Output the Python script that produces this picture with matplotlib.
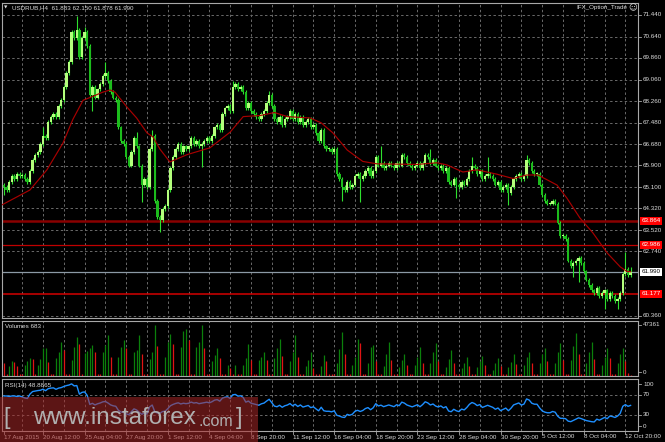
import numpy as np
import matplotlib
matplotlib.use("Agg")
import matplotlib.pyplot as plt
from matplotlib.patches import Rectangle
from matplotlib.lines import Line2D

plt.rcParams['font.family'] = ['Liberation Sans', 'DejaVu Sans']

W, H = 665, 442

# ---------------- data ----------------
title_text = "USDRUB,H4  61.883 62.150 61.878 61.990"
first_open = 65.20
closes = [
    65.10, 65.00, 65.30, 65.50, 65.40, 65.60, 65.50, 65.55, 65.40, 65.30,
    65.70, 66.10, 66.30, 66.40, 66.70, 67.00, 66.90, 67.50, 67.70, 67.80,
    67.70, 68.10, 68.30, 68.80, 69.30, 69.70, 70.80, 70.60, 70.90, 69.90,
    70.60, 70.80, 70.30, 68.50, 68.80, 68.40, 68.70, 68.90, 69.20, 69.30,
    69.00, 68.60, 68.40, 68.30, 67.30, 66.80, 66.70, 66.20, 65.90, 66.40,
    66.90, 66.60, 65.90, 65.20, 65.40, 65.10, 66.50, 67.00, 64.60, 64.00,
    63.90, 64.30, 64.40, 65.00, 65.80, 66.20, 66.50, 66.70, 66.40, 66.60,
    66.50, 66.60, 66.90, 66.70, 66.80, 66.60, 66.70, 66.80, 66.90, 66.80,
    67.00, 67.30, 67.40, 67.20, 67.80, 68.00, 68.10, 67.90, 68.80, 68.90,
    68.70, 68.80, 68.60, 68.00, 68.20, 67.90, 67.80, 67.70, 67.60, 67.80,
    67.90, 68.20, 68.50, 68.10, 67.60, 67.50, 67.70, 67.40, 67.60, 67.70,
    67.90, 67.60, 67.80, 67.50, 67.70, 67.40, 67.50, 67.60, 67.30, 67.40,
    67.10, 66.80, 67.20, 66.60, 66.50, 66.50, 66.40, 66.50, 65.60, 65.40,
    65.10, 65.00, 65.30, 65.10, 65.20, 65.50, 65.60, 65.40, 65.50, 65.70,
    65.80, 65.50, 65.70, 66.20, 65.90, 66.00, 65.80, 65.90, 66.00, 65.90,
    65.80, 66.00, 65.90, 66.30, 66.20, 66.00, 65.90, 65.80, 65.90, 66.00,
    65.80, 66.00, 66.30, 66.20, 66.00, 66.10, 65.90, 65.80, 65.90, 65.70,
    65.80, 65.30, 65.20, 65.40, 65.20, 65.10, 65.30, 65.20, 65.40, 65.70,
    65.90, 65.80, 65.60, 65.70, 65.40, 65.50, 65.60, 65.50, 65.40, 65.20,
    65.30, 65.00, 65.10, 65.20, 64.90, 65.10, 65.40, 65.50, 65.60, 65.40,
    65.50, 66.10, 66.00, 65.70, 65.60, 65.60, 65.20, 64.80, 64.60, 64.50,
    64.50, 64.60, 64.50, 63.80, 63.30, 63.30, 63.20, 62.40, 62.20, 62.30,
    62.40, 62.50, 62.30, 62.00, 61.70, 61.50, 61.30, 61.20, 61.40, 61.10,
    61.20, 61.30, 61.00, 61.20, 61.10, 60.90, 61.00, 61.20, 61.90, 62.10,
    61.883, 61.990,
]
spike_highs = {15: 67.30, 28: 71.40, 31: 71.00, 39: 69.70, 51: 67.15, 57: 67.20,
               88: 69.00, 102: 68.65, 145: 66.60, 164: 66.50, 180: 66.20,
               186: 66.20, 201: 66.30, 239: 62.70, 241: 62.150}
spike_lows = {0: 64.80, 34: 67.90, 53: 64.55, 60: 63.45, 76: 65.85, 130: 64.60,
              137: 64.55, 174: 64.70, 194: 64.45, 219: 61.80, 221: 61.60,
              231: 60.60, 236: 60.60, 241: 61.878}

volumes_k = [
    12, 2, 9, 14, 13, 9, 2, 2, 10.5, 14,
    16.6, 16, 2, 10.5, 15.4, 25.7, 26, 12.7, 2, 2,
    16.6, 22.6, 32, 24, 2, 2, 15, 27, 36, 30,
    2, 21, 23, 26, 28.7, 22.6, 2, 2, 22.6, 28.7,
    37.8, 18, 2, 2, 18, 27, 33, 25.7, 2, 2,
    22.6, 24, 37.8, 20, 2, 2, 16, 22.6, 47, 28,
    2, 2, 18, 31.7, 39, 30, 2, 2, 27, 42,
    44, 33, 2, 2, 27, 31.7, 47, 25.7, 2, 2,
    13.6, 19.6, 25.7, 16.6, 2, 2, 10.5, 7.5, 2, 10.5,
    2, 2, 10.5, 16.6, 30, 15, 2, 2, 15, 18,
    22.6, 15, 2, 2, 16.6, 25.7, 34.7, 18.7, 2, 2,
    13.6, 22.6, 37.8, 18, 2, 2, 9, 15, 22.6, 7.5,
    2, 2, 9, 19.6, 14, 2, 2, 2, 12, 25,
    41, 20, 2, 2, 10, 18, 34, 31, 2, 2,
    12, 27, 29, 14, 2, 2, 9, 20, 32, 15,
    2, 2, 8, 15, 20, 10, 2, 2, 10, 18,
    27, 12, 2, 2, 12, 22, 31, 14, 2, 2,
    8, 16, 24, 12, 2, 2, 7, 12, 18, 9,
    2, 2, 8, 14, 19, 10, 2, 2, 6, 12,
    17, 9, 2, 2, 8, 13, 20, 11, 2, 2,
    10, 18, 22, 12, 2, 2, 12, 20, 26, 14,
    2, 2, 12, 22, 31, 15, 2, 2, 15, 28,
    40, 20, 2, 2, 12, 22, 32, 16, 2, 2,
    10, 18, 26, 17, 2, 2, 12, 20, 26, 14,
    3, 0.683,
]

ma_bars = [-0.8, 10, 16.5, 22.7, 26.5, 30.4, 33, 38, 40.8, 42.7, 47.3, 51, 55, 57.3,
           60, 63.8, 70.4, 79.2, 87, 92, 98.5, 104, 109, 117.7, 122, 126.5, 132,
           138, 143.5, 159, 166.5, 170.4, 176.5, 182, 189.6, 195.8, 201, 205.4,
           212.7, 216.5, 221.5, 226.5, 232, 237, 239.6, 241]
ma_values = [64.45, 65.0, 65.74, 66.73, 67.6, 68.3, 68.4, 68.6, 68.68, 68.6, 68.05,
             67.65, 67.1, 66.95, 66.5, 66.03, 66.3, 66.55, 67.13, 67.7, 67.74,
             67.85, 67.7, 67.65, 67.47, 67.1, 66.47, 66.05, 65.96, 65.94, 66.0,
             65.92, 65.66, 65.74, 65.58, 65.42, 65.55, 65.55, 65.18, 64.7, 63.97,
             63.42, 62.68, 62.17, 62.0, 61.99]

rsi_period = 14
rsi_head = [68, 68, 67, 68, 68, 67, 68, 66, 64, 63, 72, 77, 78, 79]

price_ticks = [71.44, 70.64, 69.86, 69.06, 68.26, 67.48, 66.68, 65.90, 65.10,
               64.32, 63.52, 62.74, 60.36]
level_prices = [63.864, 62.986, 61.177]
level_labels = ["63.864", "62.986", "61.177"]
last_price = 61.990
vol_label = "Volumes 683"
vol_max_label = "47361"
rsi_label = "RSI(14) 48.8865"
date_bars = [0, 15, 31, 47, 63, 79, 95, 111, 127, 143, 159, 175, 191, 207, 223, 239]
date_labels = ["17 Aug 2015", "20 Aug 12:00", "25 Aug 04:00", "27 Aug 20:00",
               "1 Sep 12:00", "4 Sep 04:00", "8 Sep 20:00", "11 Sep 12:00",
               "16 Sep 04:00", "18 Sep 20:00", "23 Sep 12:00", "28 Sep 04:00",
               "30 Sep 20:00", "5 Oct 12:00", "8 Oct 04:00", "12 Oct 20:00"]

# ---------------- geometry helpers ----------------
FS = 4.5
TXT = '#dcdcdc'
GRID = '#6a6a6a'
SPINE = '#a8a8a8'
XL = (-0.77, 243.85)
PX_PER_PRICE = 1 / 0.036811


def price_y(p):
    return 15 + (71.44 - p) * PX_PER_PRICE


def fbox(x0, y0, x1, y1):
    return [x0 / W, 1 - y1 / H, (x1 - x0) / W, (y1 - y0) / H]


fig = plt.figure(figsize=(W / 100, H / 100), dpi=100, facecolor='black')


def ftxt(x, y, s, **kw):
    d = dict(fontsize=FS, color=TXT, ha='left', va='center')
    d.update(kw)
    return fig.text(x / W, 1 - y / H, s, **d)


def fline(x0, y0, x1, y1, **kw):
    fig.add_artist(Line2D([x0 / W, x1 / W], [1 - y0 / H, 1 - y1 / H],
                          transform=fig.transFigure, **kw))


def style(ax):
    ax.set_facecolor('black')
    ax.set_xlim(*XL)
    ax.set_xticks([])
    ax.set_yticks([])
    for s in ax.spines.values():
        s.set_color(SPINE)
        s.set_linewidth(0.8)


ax = fig.add_axes(fbox(2, 3, 638, 318))
axv = fig.add_axes(fbox(2, 321, 638, 376))
axr = fig.add_axes(fbox(2, 379, 638, 431))
for a in (ax, axv, axr):
    style(a)

ax.set_ylim(60.36 - (318 - 316) / PX_PER_PRICE, 71.44 + (15 - 3) / PX_PER_PRICE)
axv.set_ylim(0, 47361 * (376 - 321) / (376 - 325))
axr.set_ylim(30 - (431 - 414.7) * 2.03, 70 + (395 - 379) * 2.03)

grid_bars = np.arange(7, 242, 8)
for a in (ax, axv, axr):
    for g in grid_bars:
        a.axvline(g, color=GRID, lw=0.7, ls=(0, (2.5, 2.5)), zorder=0)
for p in price_ticks:
    ax.axhline(p, color=GRID, lw=0.7, ls=(0, (2.5, 2.5)), zorder=0)

# ---------------- candles ----------------
n = len(closes)
idx = np.arange(n)
c = np.array(closes)
o = np.r_[first_open, c[:-1]]
hi = np.maximum(o, c) + 0.07
lo = np.minimum(o, c) - 0.07
for k, v in spike_highs.items():
    hi[k] = max(hi[k], v)
for k, v in spike_lows.items():
    lo[k] = min(lo[k], v)
up = c >= o
ax.vlines(idx, lo, hi, color='#2ee02e', lw=0.8, zorder=3)
bh = np.maximum(np.abs(c - o), 0.03)
bb = np.minimum(o, c)
ax.bar(idx[up], bh[up], bottom=bb[up], width=0.85, color='#b4ff7c', lw=0, zorder=4)
ax.bar(idx[~up], bh[~up], bottom=bb[~up], width=0.85, color='#1cbc1c', lw=0, zorder=4)

# moving average
ax.plot(ma_bars, ma_values, color='#a80000', lw=0.85, zorder=5)

# horizontal levels
ax.axhline(level_prices[0], color='#8a0000', lw=1.8, zorder=2)
ax.axhline(level_prices[1], color='#c00000', lw=0.9, zorder=2)
ax.axhline(level_prices[2], color='#d40000', lw=1.1, zorder=2)
ax.axhline(last_price, color='#8c9aa6', lw=0.9, zorder=2)

# ---------------- volumes ----------------
v = np.array(volumes_k) * 1000
prev = np.r_[v[0] + 1, v[:-1]]
vcols = np.where(v > prev, '#0b800b', '#e01414')
axv.vlines(idx, 0, v, colors=vcols, lw=0.9)

# ---------------- RSI ----------------
d = np.diff(c)
gain = np.where(d > 0, d, 0.0)
loss = np.where(d < 0, -d, 0.0)
rsi = np.full(n, np.nan)
ag = gain[:rsi_period].mean()
al = loss[:rsi_period].mean()
rsi[rsi_period] = 100 - 100 / (1 + ag / al)
for k in range(rsi_period + 1, n):
    ag = (ag * (rsi_period - 1) + gain[k - 1]) / rsi_period
    al = (al * (rsi_period - 1) + loss[k - 1]) / rsi_period
    rsi[k] = 100.0 if al == 0 else 100 - 100 / (1 + ag / al)
rsi[:rsi_period] = rsi_head
for lvl in (70, 30):
    axr.axhline(lvl, color=GRID, lw=0.7, ls=(0, (2.5, 2.5)), zorder=0)
axr.plot(idx, rsi, color='#1e8fff', lw=1.0, zorder=3)

# ---------------- right-side labels ----------------
for p in price_ticks:
    y = price_y(p)
    fline(638, y, 641, y, color=SPINE, lw=0.6)
    ftxt(643, y, f"{p:.3f}")

for p, s in zip(level_prices, level_labels):
    ftxt(641.5, price_y(p), s, color='white', zorder=8,
         bbox=dict(boxstyle='square,pad=0.22', fc='#ff0000', ec='none'))
ftxt(641.5, price_y(last_price), f"{last_price:.3f}", color='black', zorder=8,
     bbox=dict(boxstyle='square,pad=0.22', fc='white', ec='none'))

ftxt(643, 325, vol_max_label)
ftxt(643, 372, "0")
fline(638, 325, 641, 325, color=SPINE, lw=0.6)
fline(638, 372, 641, 372, color=SPINE, lw=0.6)
for val, y in ((100, 384), (70, 394.5), (30, 414.5), (0, 426)):
    ftxt(643, y, str(val))
    fline(638, y, 641, y, color=SPINE, lw=0.6)

# ---------------- titles ----------------
ftxt(4, 7.5, "\u25BC", fontsize=3.2, family=['DejaVu Sans'])
ftxt(12, 7.5, title_text)
ftxt(576, 7.5, "IFX_Option_Trade")
ftxt(628.5, 7.5, "\u263A", fontsize=6, family=['DejaVu Sans'])
ftxt(5, 326, vol_label)
ftxt(5, 385, rsi_label)

# ---------------- date labels ----------------
for b, s in zip(date_bars, date_labels):
    xpx = 4 + 2.6 * b
    fline(xpx, 431, xpx, 433.5, color=SPINE, lw=0.6)
    ftxt(xpx, 437, s, zorder=3)

# ---------------- watermark ----------------
fig.add_artist(Rectangle((0, 0), 258 / W, 45 / H, transform=fig.transFigure,
                         fc='#a82828', ec='none', alpha=0.55, zorder=5))
wm = '#b0b0b0'
ftxt(3, 418, "[", fontsize=17, color=wm, zorder=7)
ftxt(33, 418, "www.instaforex", fontsize=17.5, color=wm, zorder=7)
ftxt(199, 421, ".com", fontsize=11.5, color=wm, zorder=7)
ftxt(236, 418, "]", fontsize=17, color=wm, zorder=7)

fig.savefig('out.png', dpi=100, facecolor='black')
